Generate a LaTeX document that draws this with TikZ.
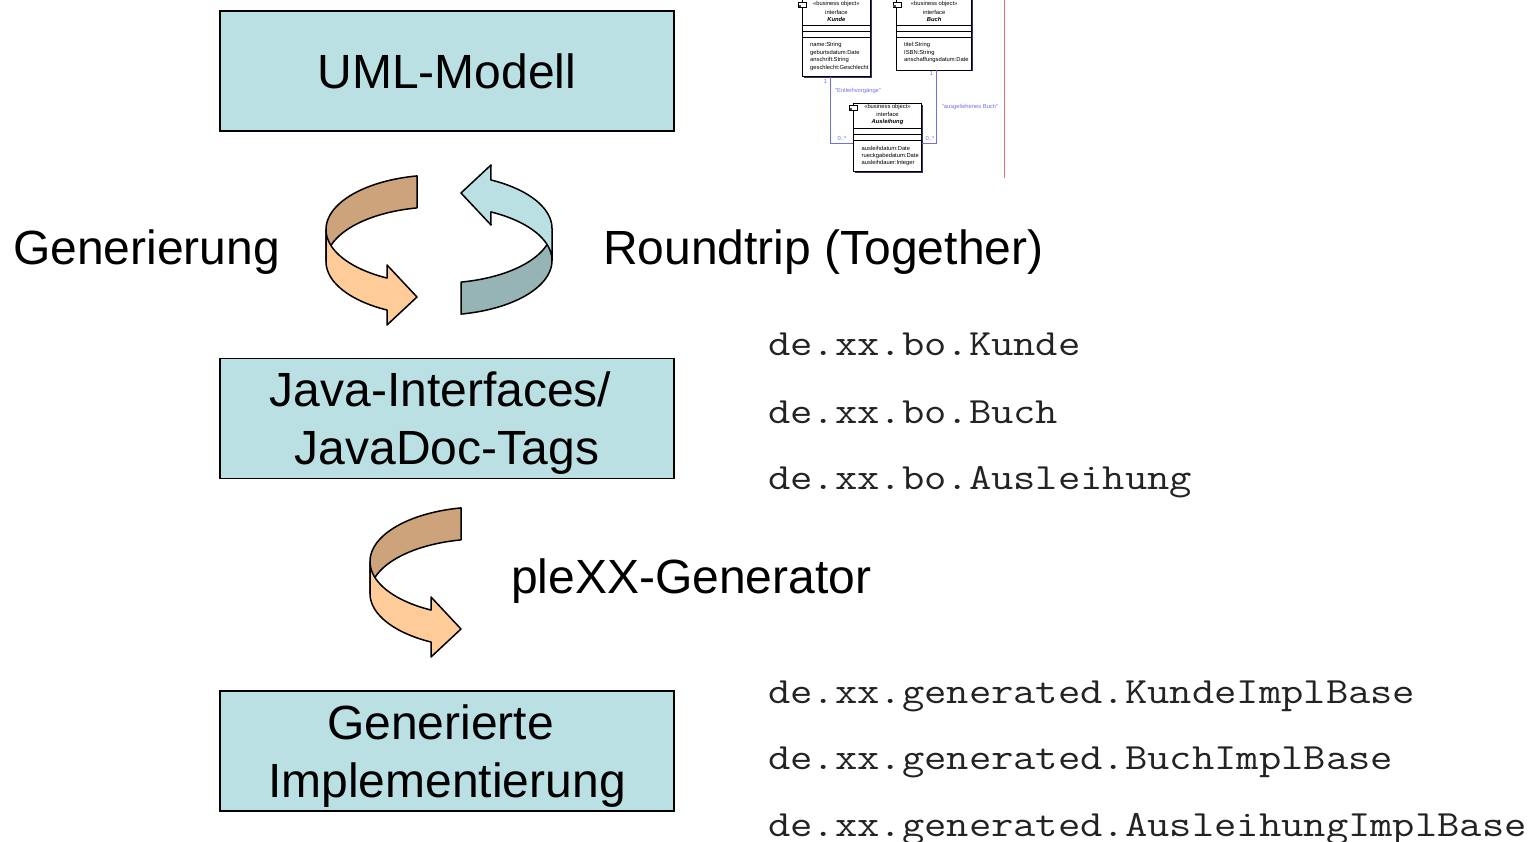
\documentclass[tikz,border=0pt]{standalone}
\usepackage{fontspec}
\setmainfont{Liberation Sans}
\usepackage{graphicx}
\usetikzlibrary{shadows}

\definecolor{boxfill}{RGB}{187,224,227}
\definecolor{ribbonfront}{RGB}{255,204,153}
\definecolor{ribbonback}{RGB}{204,163,122}
\definecolor{cyanfront}{RGB}{187,224,227}
\definecolor{cyanback}{RGB}{150,179,182}
\definecolor{umlblue}{RGB}{110,110,245}
\definecolor{umlshadow}{RGB}{50,50,110}
\definecolor{marginred}{RGB}{240,110,110}
\definecolor{codegray}{RGB}{35,35,35}

% package names in a widened typewriter face
\newcommand\pkgname[1]{\scalebox{1.171}[1]{\ttfamily\fontsize{37}{40}\selectfont #1}}

\tikzset{
  stage/.style={draw=black, line width=1.5pt, fill=boxfill,
    minimum width=454pt, minimum height=120pt, inner sep=0pt,
    align=center, font=\fontsize{48}{57.6}\selectfont,
    text height=34.5pt, text depth=0pt},
  % two-line labels: the box baseline sits on the last line
  twolines/.style={text height=92.1pt, text depth=0pt},
  freetext/.style={anchor=base west, inner sep=0pt,
    font=\fontsize{48}{57.6}\selectfont},
  pkgtext/.style={anchor=base west, inner sep=0pt, text=codegray},
  umlcls/.style={draw=black, line width=0.6pt, fill=white, inner sep=0pt,
    general shadow={fill=umlshadow, shadow xshift=1.5pt, shadow yshift=-1.5pt}},
  umltext/.style={inner sep=0pt, font=\fontsize{5.8}{6}\selectfont},
  umlattr/.style={umltext, anchor=west},
  umlrule/.style={draw=black, line width=0.5pt},
  assoc/.style={draw=umlblue, line width=0.7pt},
  assoclabel/.style={umltext, text=umlblue},
  % twisted ribbon arrow: back half first, front half with the head on top
  pics/ribbon/.style 2 args={code={
    \filldraw[fill=#1, draw=black, line width=1.5pt, line join=round]
      plot[domain=101.02:180, samples=50] ({112.5*cos(\x)}, {-16-54.6*sin(\x)})
      -- plot[domain=180:101.02, samples=50] ({112.5*cos(\x)}, {16-54.6*sin(\x)})
      -- cycle;
    \filldraw[fill=#2, draw=black, line width=1.5pt, line join=round]
      plot[domain=180:242.8, samples=50] ({112.5*cos(\x)}, {-16-54.6*sin(\x)})
      -- (-51.5,19.5) -- (-21.5,51.5) -- (-51.5,79.5)
      -- plot[domain=242.8:180, samples=50] ({112.5*cos(\x)}, {16-54.6*sin(\x)})
      -- cycle;
  }}
}

\begin{document}
\begin{tikzpicture}[x=1pt, y=-1pt]
\useasboundingbox (0,0) rectangle (1535,842);
\clip (0,0) rectangle (1535,842);

% --- main stages ---
\node[stage] (uml) at (447,71) {UML-Modell};
\node[stage, twolines] (java) at (447,418.5) {Java-Interfaces/\hspace*{13pt}\\JavaDoc-Tags};
\node[stage, twolines] (impl) at (447,751) {Generierte\hspace*{13pt}\\Implementierung};

% --- transformation arrows ---
\pic (genarrow) at (438.5,245.5) {ribbon={ribbonback}{ribbonfront}};
\pic[rotate=180] (triparrow) at (439.5,244.5) {ribbon={cyanback}{cyanfront}};
\pic (plexarrow) at (482.5,577.5) {ribbon={ribbonback}{ribbonfront}};

\node[freetext] (gen) at (13,265) {Generierung};
\node[freetext] (trip) at (603,265) {Roundtrip (Together)};
\node[freetext] (plex) at (511,593) {pleXX-Generator};

% --- generated packages ---
\node[pkgtext] (p1) at (768,356) {\pkgname{de.xx.bo.Kunde}};
\node[pkgtext] (p2) at (768,423) {\pkgname{de.xx.bo.Buch}};
\node[pkgtext] (p3) at (768,489) {\pkgname{de.xx.bo.Ausleihung}};
\node[pkgtext] (g1) at (768,703) {\pkgname{de.xx.generated.KundeImplBase}};
\node[pkgtext] (g2) at (768,769.5) {\pkgname{de.xx.generated.BuchImplBase}};
\node[pkgtext] (g3) at (768,836) {\pkgname{de.xx.generated.AusleihungImplBase}};

% --- class diagram ---
\draw[marginred, line width=0.8pt] (1004,0) -- (1004,178);

\node[umlcls, minimum width=67.3pt, minimum height=79.7pt] (kunde) at (836.35,36.85) {};
\node[umlcls, minimum width=75pt, minimum height=73pt] (buch) at (934.2,33.5) {};
\node[umlcls, minimum width=68.4pt, minimum height=68.4pt] (ausl) at (887.5,137.5) {};

\foreach \yy in {25,31.6,37.6} {
  \draw[umlrule] (kunde.west |- 0,\yy) -- (kunde.east |- 0,\yy);
  \draw[umlrule] (buch.west |- 0,\yy) -- (buch.east |- 0,\yy);
}
\foreach \yy in {128.3,134,140}
  \draw[umlrule] (ausl.west |- 0,\yy) -- (ausl.east |- 0,\yy);

% class icons
\foreach \ix/\iy in {798.5/2.5, 893/2.5, 849.5/105.5} {
  \draw[fill=white, line width=0.4pt] (\ix,\iy) rectangle ++(8,4.5);
  \fill[black!70] (\ix,\iy+2.5) rectangle ++(2.5,2);
}

\node[umltext] (k1) at (836.35,4.3) {<<business object>>};
\node[umltext] (k2) at (836.35,12) {interface};
\node[umltext] (k3) at (836.35,19.5) {\textbf{\textit{Kunde}}};
\node[umlattr] (ka1) at (810,45) {name:String};
\node[umlattr] (ka2) at (810,52.7) {geburtsdatum:Date};
\node[umlattr] (ka3) at (810,60.3) {anschrift:String};
\node[umlattr] (ka4) at (810,68) {geschlecht:Geschlecht};

\node[umltext] (b1) at (934.2,4.3) {<<business object>>};
\node[umltext] (b2) at (934.2,12) {interface};
\node[umltext] (b3) at (934.2,19.5) {\textbf{\textit{Buch}}};
\node[umlattr] (ba1) at (904,45) {titel:String};
\node[umlattr] (ba2) at (904,52.7) {ISBN:String};
\node[umlattr] (ba3) at (904,60.3) {anschaffungsdatum:Date};

\node[umltext] (a1) at (887.5,107) {<<business object>>};
\node[umltext] (a2) at (887.5,114.5) {interface};
\node[umltext] (a3) at (887.5,122) {\textbf{\textit{Ausleihung}}};
\node[umlattr] (aa1) at (861.5,148.3) {ausleihdatum:Date};
\node[umlattr] (aa2) at (861.5,155.7) {rueckgabedatum:Date};
\node[umlattr] (aa3) at (861.5,163) {ausleihdauer:Integer};

% associations
\draw[assoc] (kunde.south -| 830.7,0) |- (ausl.west |- 0,143);
\draw[assoc] (buch.south -| 936.7,0) |- (ausl.east |- 0,143);

\node[assoclabel] (m1) at (825.5,81.5) {1};
\node[assoclabel] (m2) at (842,138.5) {0..*};
\node[assoclabel] (r1) at (858,91) {"Entleihvorgänge"};
\node[assoclabel] (m3) at (931.5,74) {1};
\node[assoclabel] (m4) at (930,138.5) {0..*};
\node[assoclabel] (r2) at (970,107.3) {"ausgeliehenes Buch"};
\end{tikzpicture}
\end{document}
